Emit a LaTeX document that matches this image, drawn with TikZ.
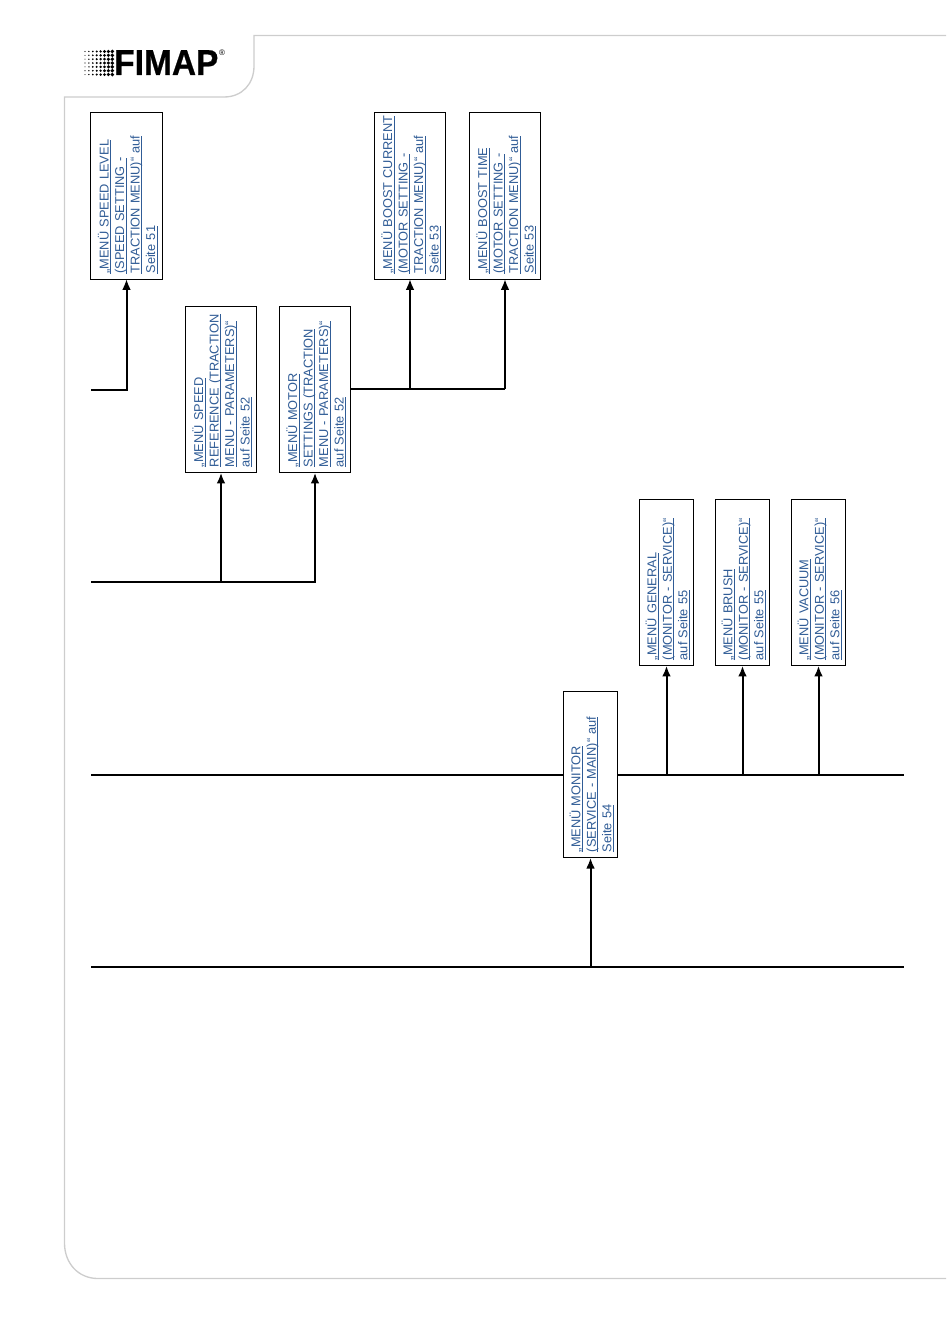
\documentclass[tikz,border=0pt]{standalone}
\usepackage{fontspec}
\setmainfont{Liberation Sans}
\newfontfamily\logofont[BoldFeatures={FakeBold=0.7}]{Liberation Sans}
\usepackage{xcolor}
\usetikzlibrary{arrows.meta,positioning,calc}
\definecolor{linkBlue}{RGB}{48,92,150}
\definecolor{frameGray}{RGB}{205,205,205}
\newcommand{\lnk}[1]{\hspace*{1.7pt}\underline{\smash{#1}}}
\newcommand{\lnkTop}[1]{\rule{0pt}{10pt}\lnk{#1}}
\tikzset{
  menubox/.style={draw,line width=0.8pt,rotate=90,fill=white,text=linkBlue,
    font=\fontsize{9.6pt}{11.6pt}\selectfont,align=left,inner sep=0pt,outer sep=0pt,
    minimum width=125pt,text width=120pt},
  wide/.style={minimum height=53.5pt},
  narrow/.style={minimum height=40.5pt},
  busline/.style={line width=1.5pt},
  feed/.style={line width=1.5pt,-{Latex[length=8pt,width=6.5pt]}}
}
\begin{document}
\begin{tikzpicture}[x=0.75pt,y=-0.75pt]
  \useasboundingbox (0,0) rectangle (950,1344);
  % page frame
  \draw[frameGray,line width=1pt] (946,35.5) -- (254,35.5) -- (254,66)
    .. controls (254,84) and (242,97) .. (224,97) -- (64.5,97) -- (64.5,1243)
    .. controls (64.5,1263) and (78,1278.5) .. (98,1278.5) -- (946,1278.5);
  % logo
  \foreach \c in {0,...,7} \foreach \r in {0,...,6}
    \fill ({85+\c*3.9},{51.5+\r*3.85}) circle ({0.55+\c*0.2});
  \node[anchor=base west,inner sep=0pt,font=\fontsize{27pt}{27pt}\selectfont\logofont\bfseries,xscale=0.93] (logo) at (114,75) {FIMAP};
  \node[inner sep=0pt,font=\fontsize{6pt}{6pt}\selectfont] (logoMark) at (222,53) {®};
  % menu boxes
  \node[menubox,wide] (speedLevel) at (126.5,195.8) {\lnkTop{„MENÜ SPEED LEVEL}\\\lnk{(SPEED SETTING -}\\\lnk{TRACTION MENU)“ auf}\\\lnk{Seite 51}};
  \node[menubox,wide] (boostCurrent) at (410,195.8) {\lnkTop{„MENÜ BOOST CURRENT}\\\lnk{(MOTOR SETTING -}\\\lnk{TRACTION MENU)“ auf}\\\lnk{Seite 53}};
  \node[menubox,wide] (boostTime) at (505,195.8) {\lnkTop{„MENÜ BOOST TIME}\\\lnk{(MOTOR SETTING -}\\\lnk{TRACTION MENU)“ auf}\\\lnk{Seite 53}};
  \node[menubox,wide] (speedRef) at (221,389.4) {\lnkTop{„MENÜ SPEED}\\\lnk{REFERENCE (TRACTION}\\\lnk{MENU - PARAMETERS)“}\\\lnk{auf Seite 52}};
  \node[menubox,wide] (motorSet) at (315,389.4) {\lnkTop{„MENÜ MOTOR}\\\lnk{SETTINGS (TRACTION}\\\lnk{MENU - PARAMETERS)“}\\\lnk{auf Seite 52}};
  \node[menubox,narrow] (monGeneral) at (666.5,582.4) {\lnkTop{„MENÜ GENERAL}\\\lnk{(MONITOR - SERVICE)“}\\\lnk{auf Seite 55}};
  \node[menubox,narrow] (monBrush) at (742.5,582.4) {\lnkTop{„MENÜ BRUSH}\\\lnk{(MONITOR - SERVICE)“}\\\lnk{auf Seite 55}};
  \node[menubox,narrow] (monVacuum) at (818.5,582.4) {\lnkTop{„MENÜ VACUUM}\\\lnk{(MONITOR - SERVICE)“}\\\lnk{auf Seite 56}};
  \node[menubox,narrow] (monitor) at (590.5,774.5) {\lnkTop{„MENÜ MONITOR}\\\lnk{(SERVICE - MAIN)“ auf}\\\lnk{Seite 54}};
  % bus ends
  \coordinate (busA) at (91,389.5);
  \coordinate (busB) at (91,581.5);
  \coordinate (busC) at (91,774.5);
  \coordinate (busD) at (91,967);
  \coordinate (busCend) at (904,774.5);
  \coordinate (busDend) at (904,967);
  % first row
  \draw[feed] (busA) -| (speedLevel.west);
  \draw[busline] (motorSet.south) -- (motorSet.south -| boostTime);
  \draw[feed] (boostCurrent.west |- motorSet.south) -- (boostCurrent.west);
  \draw[feed] (boostTime.west |- motorSet.south) -- (boostTime.west);
  % second row
  \draw[feed] (busB) -| (motorSet.west);
  \draw[feed] (speedRef.west |- busB) -- (speedRef.west);
  % third row
  \draw[busline] (busC) -- (monitor.north);
  \draw[busline] (monitor.south) -- (busCend);
  \draw[feed] (monGeneral.west |- busCend) -- (monGeneral.west);
  \draw[feed] (monBrush.west |- busCend) -- (monBrush.west);
  \draw[feed] (monVacuum.west |- busCend) -- (monVacuum.west);
  % fourth row
  \draw[busline] (busD) -- (busDend);
  \draw[feed] (monitor.west |- busD) -- (monitor.west);
\end{tikzpicture}
\end{document}
